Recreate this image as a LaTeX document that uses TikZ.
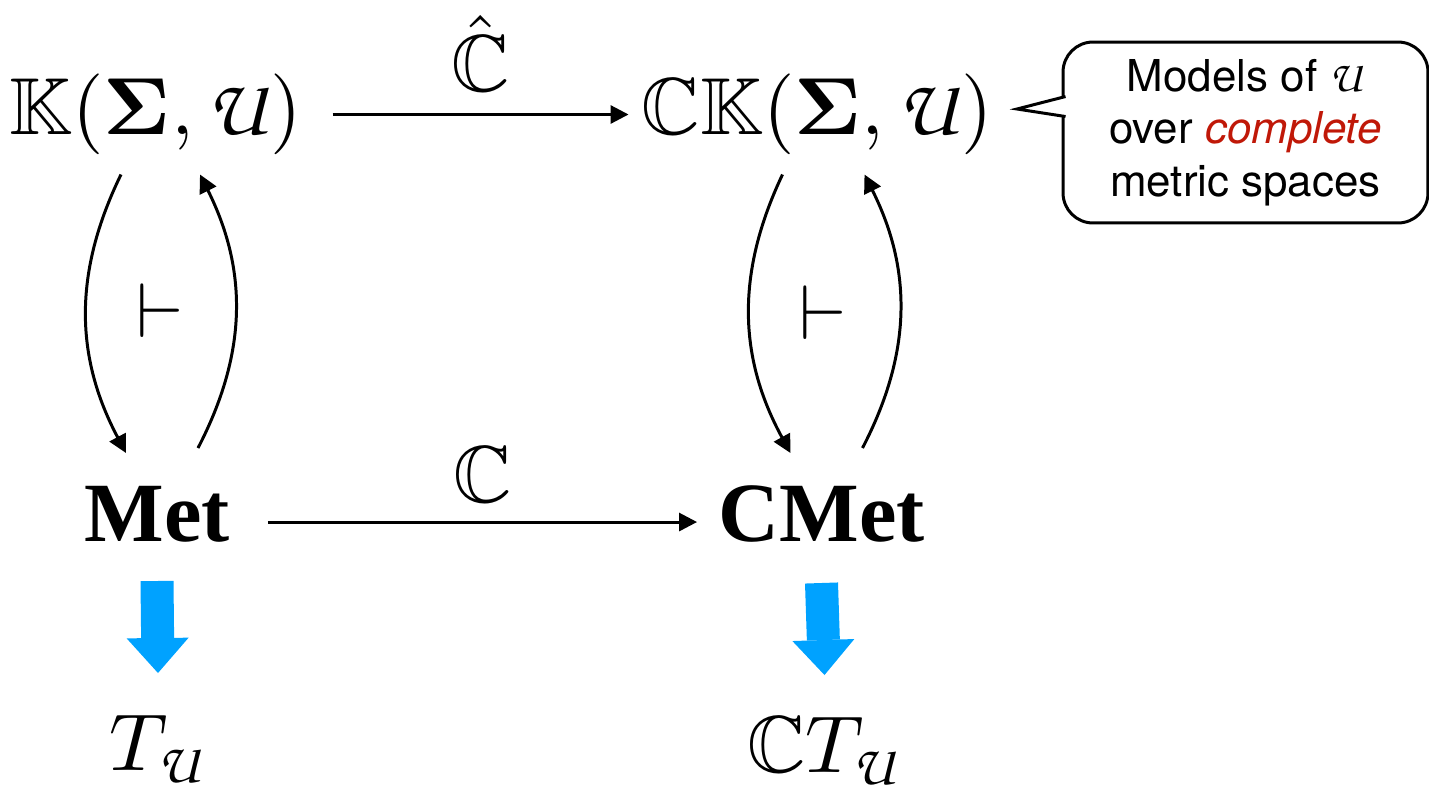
\RequirePackage{fix-cm}
\documentclass[tikz,border=0pt]{standalone}
\usepackage{amssymb}
\usepackage{graphicx}
\usepackage[no-math]{fontspec}
\newfontfamily\notefont{TeX Gyre Heros}
\newfontfamily\catfont{Liberation Serif}
\DeclareMathAlphabet{\mathpzc}{OT1}{pzc}{m}{it}
\newcommand{\thy}{\mathpzc{U}}
\newcommand{\objtext}[1]{\scalebox{4.6}{$#1$}}
\usetikzlibrary{arrows.meta,positioning,calc}
\definecolor{arrowblue}{RGB}{0,162,255}
\definecolor{notered}{RGB}{192,24,8}

\begin{document}
\begin{tikzpicture}[
  x=0.02cm,y=-0.02cm,
  >={Triangle[length=0.36cm,width=0.36cm]},
  obj/.style={inner sep=0pt},
  cat/.style={inner sep=0pt,font=\catfont\bfseries\fontsize{48}{58}\selectfont},
  map/.style={->,line width=1.7pt},
  fat/.style={-{Triangle[width=1.24cm,length=0.7cm,line width=0pt]},line width=0.66cm,draw=arrowblue},
  note/.style={draw,line width=1.7pt,rounded corners=0.6cm,minimum width=7.3cm,minimum height=3.62cm,
    align=center,font=\notefont\fontsize{25}{30}\selectfont}
]
\useasboundingbox (0,0) rectangle (1429,795);

\node[obj] (K) at (156,114.5) {\objtext{\mathbb{K}(\mathbf{\Sigma},\thy)}};
\node[obj] (CK) at (817.5,114.5) {\objtext{\mathbb{C}\mathbb{K}(\mathbf{\Sigma},\thy)}};
\node[cat,anchor=base] (Met) at (157,541) {Met};
\node[cat,anchor=base] (CMet) at (821.5,541) {CMet};
\node[obj,anchor=base] (TU) at (158,770) {\objtext{T_{\thy}}};
\node[obj,anchor=base] (CTU) at (824.5,772) {\objtext{\mathbb{C}T_{\thy}}};

\draw[map] ([xshift=17pt]K.east) -- node[obj,above=12pt]{\objtext{\hat{\mathbb{C}}}} ([xshift=-7.4pt]CK.west);
\draw[map] ([shift={(21.6pt,10.8pt)}]Met.base east) -- node[obj,above=10pt]{\objtext{\mathbb{C}}} ([shift={(-12pt,10.8pt)}]CMet.base west);

% adjunctions
\draw[map] ($(K)+(-35,60)$) to[bend right=27] ($(Met.base)+(-31,-88)$);
\draw[map] ($(Met.base)+(41,-93)$) to[bend right=27] ($(K)+(44,60)$);
\node[obj] (adjL) at (160,311) {\scalebox{4.4}{$\vdash$}};
\draw[map] ($(CK)+(-35,60)$) to[bend right=27] ($(CMet.base)+(-31,-88)$);
\draw[map] ($(CMet.base)+(41,-93)$) to[bend right=27] ($(CK)+(47,60)$);
\node[obj] (adjR) at (823,313) {\scalebox{4.4}{$\vdash$}};

\draw[fat] ($(Met.base)+(0,40)$) -- ($(TU.base)+(0,-97)$);
\draw[fat] ($(CMet.base)+(0,42)$) -- ($(CTU.base)+(0,-97)$);

% callout
\node[note] (note) at (1245.5,132.5) {Models of $\thy$\\over {\color{notered}\itshape complete}\\metric spaces};
\coordinate (tip) at (1017,109);
\filldraw[fill=white,line width=1.7pt,line join=miter] ($(note.north west)+(4,56)$) -- (tip) -- ($(note.north west)+(4,76)$);
\end{tikzpicture}
\end{document}
